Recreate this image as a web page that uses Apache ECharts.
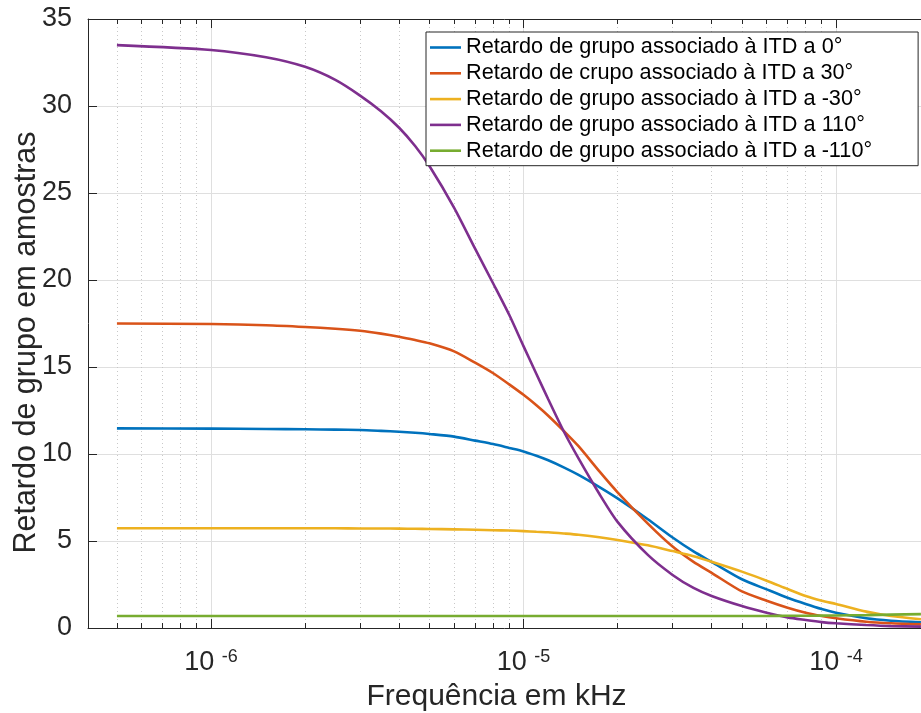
<!DOCTYPE html>
<html>
<head>
<meta charset="utf-8">
<script src="https://cdn.jsdelivr.net/npm/echarts@6/dist/echarts.min.js"></script>
<style>
  html, body { margin: 0; padding: 0; background: #fff; }
  #chart { width: 921px; height: 713px; }
</style>
</head>
<body>
<div id="chart"></div>
<script>
// Frequency samples (kHz) shared by every curve
const freqs = [5e-7, 1e-6, 1.5e-6, 2e-6, 2.5e-6, 3e-6, 3.5e-6, 4e-6, 4.5e-6, 5e-6,
  6e-6, 7e-6, 8e-6, 9e-6, 1e-5, 1.1e-5, 1.2e-5, 1.35e-5, 1.5e-5, 1.75e-5,
  2e-5, 2.5e-5, 3e-5, 3.5e-5, 4e-5, 5e-5, 6e-5, 7e-5, 8e-5, 9e-5,
  1e-4, 1.25e-4, 1.5e-4, 1.87e-4];

// Group delay (samples) for each ITD angle
const delay0 = [11.47, 11.46, 11.44, 11.42, 11.4, 11.38, 11.33, 11.28, 11.22, 11.15,
  11.0, 10.77, 10.57, 10.35, 10.15, 9.9, 9.64, 9.22, 8.8, 8.1,
  7.45, 6.25, 5.2, 4.4, 3.8, 2.8, 2.22, 1.74, 1.38, 1.09,
  0.88, 0.56, 0.42, 0.33];
const delay30 = [17.5, 17.47, 17.4, 17.3, 17.2, 17.08, 16.92, 16.74, 16.55, 16.36,
  15.9, 15.25, 14.64, 14.0, 13.4, 12.8, 12.2, 11.3, 10.45, 9.0,
  7.8, 6.0, 4.68, 3.8, 3.17, 2.1, 1.57, 1.17, 0.88, 0.69,
  0.56, 0.36, 0.27, 0.21];
const delayMinus30 = [5.73, 5.73, 5.73, 5.73, 5.73, 5.72, 5.72, 5.71, 5.7, 5.69,
  5.67, 5.65, 5.62, 5.6, 5.57, 5.53, 5.5, 5.43, 5.36, 5.22,
  5.06, 4.75, 4.42, 4.13, 3.81, 3.24, 2.72, 2.24, 1.84, 1.57,
  1.38, 0.94, 0.69, 0.5];
const delay110 = [33.5, 33.22, 32.8, 32.25, 31.5, 30.6, 29.7, 28.75, 27.7, 26.55,
  24.15, 21.8, 19.8, 18.0, 16.2, 14.6, 13.15, 11.25, 9.75, 7.7,
  6.1, 4.2, 3.05, 2.3, 1.84, 1.26, 0.88, 0.61, 0.46, 0.34,
  0.27, 0.17, 0.11, 0.08];
const delayMinus110 = [0.69, 0.69, 0.69, 0.69, 0.69, 0.69, 0.69, 0.69, 0.69, 0.69,
  0.69, 0.69, 0.69, 0.69, 0.69, 0.69, 0.69, 0.69, 0.69, 0.69,
  0.69, 0.69, 0.69, 0.69, 0.69, 0.69, 0.69, 0.7, 0.7, 0.71,
  0.72, 0.74, 0.77, 0.8];

const seriesNames = [
  'Retardo de grupo associado à ITD a 0°',
  'Retardo de crupo associado à ITD a 30°',
  'Retardo de grupo associado à ITD a -30°',
  'Retardo de grupo associado à ITD a 110°',
  'Retardo de grupo associado à ITD a -110°'
];
const seriesColors = ['#0072BD', '#D95319', '#EDB120', '#7E2F8E', '#77AC30'];
const seriesValues = [delay0, delay30, delayMinus30, delay110, delayMinus110];

// Axis extents and tick decades
const freqMin = 4.04e-7;
const freqMax = 1.871e-4;
const majorExponents = [-6, -5, -4];
const yTicks = [0, 5, 10, 15, 20, 25, 30, 35];

// The x axis is drawn in log10 space; minor ticks sit at 2..9 x 10^n
const logMin = Math.log10(freqMin);
const logMax = Math.log10(freqMax);
const minorLogs = [];
for (let d = -7; d <= -4; d++) {
  for (let m = 2; m <= 9; m++) {
    const v = Math.log10(m) + d;
    if (v > logMin && v < logMax) minorLogs.push(v);
  }
}

const ink = '#262626';
const font = 'Liberation Sans, Arial, Helvetica, sans-serif';

function xAxisBase(position) {
  return {
    type: 'value', position: position, min: logMin, max: logMax,
    axisLine: { show: false }, axisLabel: { show: false },
    axisTick: { show: false }, splitLine: { show: false }
  };
}

const xMajorBottom = Object.assign(xAxisBase('bottom'), {
  name: 'Frequência em kHz',
  nameLocation: 'middle',
  nameGap: 52,
  nameTextStyle: { fontSize: 30, color: ink, fontFamily: font, padding: [0, 16, 0, 0] },
  axisLine: { show: true, lineStyle: { color: ink, width: 1 } },
  axisTick: { show: true, inside: true, length: 9, lineStyle: { color: ink }, customValues: majorExponents },
  axisLabel: {
    show: true, margin: 20, customValues: majorExponents,
    formatter: function (v) { return '{b|10 }{e|' + Math.round(v) + '}'; },
    rich: {
      b: { fontSize: 27, color: ink, fontFamily: font, lineHeight: 30 },
      e: { fontSize: 18, color: ink, fontFamily: font, lineHeight: 16, verticalAlign: 'top' }
    }
  },
  splitLine: { show: true, lineStyle: { color: '#dfdfdf', width: 1 } }
});
const xMinorBottom = Object.assign(xAxisBase('bottom'), {
  axisTick: { show: true, inside: true, length: 5, lineStyle: { color: ink }, customValues: minorLogs },
  splitLine: { show: true, lineStyle: { color: '#c8c8c8', width: 1, type: [1, 3] } }
});
const xMajorTop = Object.assign(xAxisBase('top'), {
  axisLine: { show: true, lineStyle: { color: ink, width: 1 } },
  axisTick: { show: true, inside: true, length: 9, lineStyle: { color: ink }, customValues: majorExponents }
});
const xMinorTop = Object.assign(xAxisBase('top'), {
  axisTick: { show: true, inside: true, length: 5, lineStyle: { color: ink }, customValues: minorLogs }
});

const series = seriesValues.map(function (vals, i) {
  return {
    name: seriesNames[i],
    type: 'line',
    xAxisIndex: 0,
    showSymbol: false,
    symbol: 'none',
    smooth: 0.25,
    lineStyle: { color: seriesColors[i], width: 2.6 },
    itemStyle: { color: seriesColors[i] },
    data: freqs.map(function (f, k) { return [Math.log10(f), vals[k]]; })
  };
});

const chart = echarts.init(document.getElementById('chart'), null, { renderer: 'canvas' });
chart.setOption({
  animation: false,
  backgroundColor: '#ffffff',
  grid: { left: 88, right: 0, top: 19, bottom: 85, containLabel: false, outerBoundsMode: 'none' },
  xAxis: [xMajorBottom, xMinorBottom, xMajorTop, xMinorTop],
  yAxis: {
    type: 'value', min: 0, max: 35, interval: 5,
    name: 'Retardo de grupo em amostras',
    nameLocation: 'middle',
    nameGap: 46,
    nameMoveOverlap: false,
    nameTextStyle: { fontSize: 30.5, color: ink, fontFamily: font, padding: [0, 38, 0, 0] },
    axisLine: { show: true, lineStyle: { color: ink, width: 1 } },
    axisTick: { show: true, inside: true, length: 9, lineStyle: { color: ink } },
    axisLabel: { margin: 16, fontSize: 27, color: ink, fontFamily: font,
      customValues: yTicks },
    splitLine: { show: true, lineStyle: { color: '#dfdfdf', width: 1 } }
  },
  legend: {
    orient: 'vertical',
    left: 426, top: 32,
    padding: [4.5, 46, 4, 4],
    itemGap: 3.8,
    itemWidth: 31,
    itemHeight: 2.6,
    icon: 'rect',
    backgroundColor: '#ffffff',
    borderColor: ink,
    borderWidth: 1,
    borderRadius: 0,
    textStyle: { fontSize: 21.7, color: '#000', fontFamily: font, lineHeight: 22 },
    data: seriesNames
  },
  series: series
});
</script>
</body>
</html>
